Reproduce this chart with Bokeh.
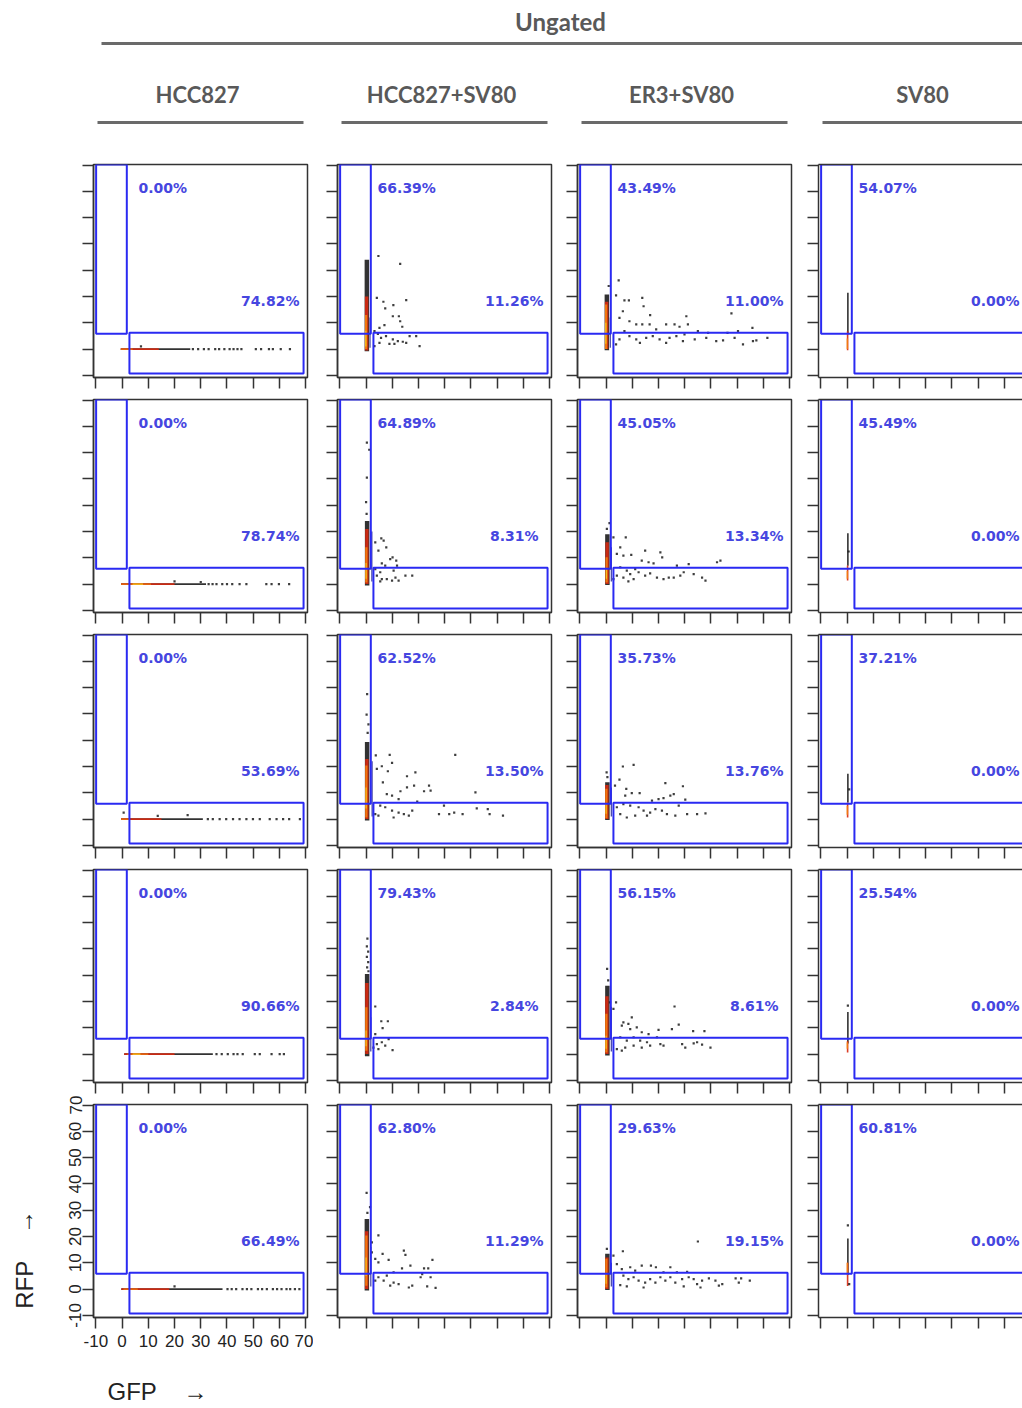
import json
from bokeh.plotting import figure
from bokeh.layouts import row, column
from bokeh.models import Range1d, FixedTicker, LinearAxis, CustomLabelingPolicy, CustomJSTickFormatter
from bokeh.core.properties import value
from bokeh.embed import file_html
from bokeh.resources import INLINE

# ---------------- data ----------------
HEADER = "Ungated"
SAMPLES = ["HCC827", "HCC827+SV80", "ER3+SV80", "SV80"]
TICKS = [-10, 0, 10, 20, 30, 40, 50, 60, 70]
TICK_LABELS = ["-10", "0", "10", "20", "30", "40", "50", "60", "70"]
X_LABEL = "GFP"
Y_LABEL = "RFP"
ARROW = "\u2192"

# gates (x0, x1, y0, y1)
GATE_RFP = (-9.9, 1.8, 5.8, 70.2)
GATE_GFP = (2.8, 69.2, -9.3, 6.2)

# percentages: RFP+ (upper-left gate) and GFP+ (lower-right gate), rows 1..5
PCT_RFP_HCC827 = [0.00, 0.00, 0.00, 0.00, 0.00]
PCT_RFP_HCC827_SV80 = [66.39, 64.89, 62.52, 79.43, 62.80]
PCT_RFP_ER3_SV80 = [43.49, 45.05, 35.73, 56.15, 29.63]
PCT_RFP_SV80 = [54.07, 45.49, 37.21, 25.54, 60.81]
PCT_GFP_HCC827 = [74.82, 78.74, 53.69, 90.66, 66.49]
PCT_GFP_HCC827_SV80 = [11.26, 8.31, 13.50, 2.84, 11.29]
PCT_GFP_ER3_SV80 = [11.00, 13.34, 13.76, 8.61, 19.15]
PCT_GFP_SV80 = [0.00, 0.00, 0.00, 0.00, 0.00]

# sparse events (GFP, RFP)
EV_HCC827_R1 = [(7.2, 1.0), (27, 0), (29, 0), (31.2, 0), (33, 0), (35.5, 0), (37, 0), (39, 0), (41, 0), (42.5, 0),
                (44, 0), (45.5, 0), (51, 0), (53, 0), (56, 0), (57.5, 0), (60.5, 0), (64, 0)]
EV_HCC827_R2 = [(20, 1.0), (30, 0.8), (33, 0), (34.5, 0), (36, 0), (38.2, 0), (40, 0), (42, 0), (44.8, 0), (47.4, 0),
                (55, 0), (57, 0), (59.8, 0), (63.7, 0)]
EV_HCC827_R3 = [(0.6, 2.5), (13.6, 1.2), (25, 1.5), (32.7, 0), (34.6, 0), (37.2, 0), (39.7, 0), (42.3, 0), (44.8, 0),
                (47.4, 0), (49.9, 0), (52.5, 0), (56.3, 0), (58.9, 0), (61.4, 0), (63.7, 0), (67.8, 0)]
EV_HCC827_R4 = [(36, 0), (38, 0), (40.3, 0), (42.5, 0), (44, 0), (46, 0), (50.6, 0), (52.5, 0), (57, 0), (60.1, 0),
                (61.7, 0)]
EV_HCC827_R5 = [(20, 1.0), (40.2, 0), (41.8, 0), (43.5, 0), (45.9, 0), (47.6, 0), (49.3, 0), (51.8, 0), (53.4, 0),
                (55.2, 0), (57.5, 0), (59.1, 0), (60.8, 0), (62.7, 0), (64.1, 0), (65.9, 0), (67.6, 0)]

EV_HCC827_SV80_R1 = [(4.7, 35.4), (13.0, 32.4), (15.3, 18.6), (10.4, 16.7), (4.1, 19.5), (6.6, 18.0), (7.3, 15.5),
                     (10.2, 12.5), (12.5, 12.5), (13.0, 10.6), (13.8, 8.5), (7.0, 9.1), (5.1, 8.1), (3.2, 6.8),
                     (7.6, 4.9), (10.2, 3.7), (12.1, 3.0), (15.3, 2.4), (19.1, 4.9), (20.4, 1.1), (16.6, 4.9),
                     (5.1, 2.4), (3.2, 1.1), (8.9, 2.0), (5.7, 4.3), (10.8, 2.0), (14.0, 2.8), (4.5, 5.8)]
EV_HCC827_SV80_R2 = [(0.3, 53.8), (1.2, 51.1), (0.3, 40.5), (0.0, 31.2), (0.2, 26.7), (5.8, 17.4), (6.7, 16.5),
                     (7.7, 14.0), (3.5, 15.9), (4.7, 12.7), (10.1, 10.2), (11.5, 8.9), (9.2, 9.5), (6.0, 7.9),
                     (7.3, 7.0), (11.8, 7.0), (10.5, 5.1), (5.4, 4.5), (4.1, 3.2), (6.0, 1.9), (7.9, 1.9),
                     (9.9, 1.3), (12.4, 1.3), (15.0, 3.2), (17.6, 3.2), (3.5, 5.7), (5.4, 1.0), (11.2, 2.5)]
EV_HCC827_SV80_R3 = [(0.4, 47.5), (0.2, 39.7), (0.9, 36.0), (0.6, 32.8), (3.7, 24.2), (9.0, 24.4), (9.9, 21.4),
                     (6.0, 20.1), (8.3, 18.2), (4.1, 19.1), (18.8, 17.8), (15.6, 16.3), (6.4, 14.0), (18.3, 12.7),
                     (15.6, 12.1), (13.1, 10.6), (24.0, 12.7), (24.6, 10.8), (22.1, 10.6), (34.0, 24.4),
                     (41.7, 10.2), (9.9, 8.9), (7.9, 9.5), (12.4, 7.6), (19.5, 6.7), (5.4, 5.1), (7.3, 4.5),
                     (9.9, 3.2), (12.4, 2.5), (14.4, 1.9), (17.6, 3.2), (16.3, 1.3), (10.5, 0.6), (4.7, 1.3),
                     (29.7, 5.1), (27.8, 1.9), (31.7, 1.9), (33.6, 2.5), (36.8, 1.9), (42.2, 4.1), (46.4, 3.8),
                     (47.1, 1.9), (52.2, 1.3), (3.5, 1.9)]
EV_HCC827_SV80_R4 = [(0.5, 43.9), (0.3, 41.0), (0.8, 39.0), (0.3, 37.0), (0.8, 35.0), (0.4, 33.0), (0.9, 31.5),
                     (3.5, 18.1), (5.8, 12.5), (8.3, 12.5), (6.3, 9.9), (3.5, 7.6), (8.6, 5.7), (6.0, 4.5),
                     (7.3, 3.2), (4.7, 1.9), (10.1, 1.5), (2.8, 2.5), (4.1, 3.8)]
EV_HCC827_SV80_R5 = [(0.2, 36.6), (1.5, 31.2), (0.5, 29.0), (4.7, 20.4), (2.2, 17.8), (6.3, 13.4), (2.2, 14.0),
                     (3.5, 11.5), (4.7, 10.2), (8.6, 11.1), (10.5, 6.4), (14.4, 14.6), (15.0, 13.0), (16.9, 8.9),
                     (13.7, 7.9), (22.1, 7.9), (23.7, 7.9), (25.3, 11.1), (20.8, 4.5), (24.6, 4.5), (26.5, 0.5),
                     (23.3, 1.0), (17.6, 1.3), (16.3, 0.6), (12.4, 1.9), (10.5, 2.5), (9.2, 1.3), (6.7, 3.2),
                     (4.7, 4.5), (7.9, 5.1), (3.5, 3.2), (21.4, 5.7)]

EV_ER3_SV80_R1 = [(1.0, 24.0), (4.8, 26.1), (3.8, 20.4), (7.0, 18.5), (8.7, 18.5), (13.8, 19.5), (14.3, 16.3),
                  (16.8, 12.9), (6.4, 14.4), (5.1, 11.9), (8.9, 10.6), (11.5, 9.4), (13.8, 9.4), (16.6, 9.4),
                  (19.1, 7.5), (22.9, 9.4), (26.1, 9.4), (28.0, 8.5), (30.6, 12.5), (31.2, 9.4), (35.0, 6.8),
                  (38.2, 4.3), (42.0, 3.0), (44.6, 3.3), (47.8, 13.6), (49.0, 4.3), (52.2, 1.8), (56.0, 3.0),
                  (55.8, 8.1), (57.3, 3.3), (61.5, 4.3), (7.0, 6.8), (8.9, 4.9), (11.5, 3.7), (12.9, 2.4),
                  (15.3, 4.3), (17.8, 4.9), (20.4, 3.7), (22.9, 2.4), (24.2, 4.3), (26.8, 4.9), (29.3, 3.0),
                  (29.9, 5.6), (33.8, 3.7), (38.9, 6.2), (46.3, 6.2), (50.3, 6.8), (5.1, 3.7), (3.8, 1.8)]
EV_ER3_SV80_R2 = [(1.3, 23.2), (0.3, 21.0), (2.8, 17.8), (7.5, 17.8), (5.4, 14.0), (4.1, 11.5), (6.6, 10.8),
                  (9.6, 11.1), (14.9, 12.7), (20.7, 12.1), (21.4, 10.2), (13.6, 8.9), (16.2, 8.3), (18.1, 7.9),
                  (27.0, 7.0), (31.5, 7.6), (42.3, 8.3), (43.6, 8.9), (5.4, 6.4), (7.9, 5.1), (9.2, 3.8),
                  (6.6, 2.5), (8.5, 1.0), (10.5, 1.9), (12.4, 4.5), (14.9, 3.2), (16.8, 4.1), (19.4, 2.5),
                  (21.9, 1.9), (23.9, 2.5), (25.8, 2.5), (28.3, 3.2), (29.6, 4.5), (33.4, 3.8), (36.6, 2.5),
                  (37.9, 1.3), (11.1, 5.7), (4.1, 3.2), (2.8, 1.9)]
EV_ER3_SV80_R3 = [(0.2, 17.8), (0.5, 16.0), (6.4, 20.0), (10.5, 20.6), (5.1, 15.0), (3.4, 12.7), (7.7, 11.5),
                  (9.8, 9.9), (12.8, 9.9), (7.3, 8.9), (22.6, 13.7), (29.3, 12.5), (25.8, 9.5), (24.5, 8.9),
                  (21.9, 8.0), (20.0, 7.6), (17.5, 7.0), (30.2, 7.4), (27.7, 5.1), (6.6, 5.7), (9.2, 5.1),
                  (12.4, 4.5), (14.3, 3.2), (16.8, 2.5), (18.8, 3.8), (21.3, 3.2), (23.2, 1.9), (26.4, 1.3),
                  (30.9, 1.9), (34.7, 1.9), (37.9, 2.2), (11.1, 1.3), (5.4, 1.9), (7.9, 0.6), (15.6, 1.3),
                  (4.1, 4.5)]
EV_ER3_SV80_R4 = [(0.4, 32.4), (0.8, 28.0), (1.5, 19.7), (3.8, 19.7), (2.8, 17.2), (9.8, 14.0), (6.6, 12.1),
                  (8.5, 11.5), (6.0, 10.8), (11.7, 10.2), (9.2, 9.5), (13.6, 8.3), (16.2, 7.6), (20.0, 9.2),
                  (25.1, 9.5), (27.7, 11.2), (26.1, 18.1), (33.2, 8.7), (37.5, 8.7), (5.4, 6.4), (7.9, 5.1),
                  (10.5, 6.4), (13.0, 5.1), (15.6, 4.5), (19.4, 6.4), (20.7, 3.8), (16.8, 3.2), (21.9, 3.2),
                  (7.3, 2.5), (10.5, 3.2), (13.6, 2.5), (29.0, 3.8), (30.2, 2.5), (33.4, 4.1), (34.7, 4.5),
                  (36.6, 3.6), (39.8, 2.5), (4.1, 1.9), (6.0, 1.3)]
EV_ER3_SV80_R5 = [(0.3, 15.3), (6.4, 14.4), (2.8, 12.7), (35.0, 18.1), (4.1, 9.5), (6.0, 7.6), (9.2, 8.3),
                  (11.1, 7.0), (13.6, 8.9), (17.1, 8.9), (19.0, 8.3), (24.5, 8.3), (21.9, 6.4), (27.0, 6.4),
                  (30.9, 6.6), (6.6, 5.1), (8.5, 3.8), (10.5, 4.5), (12.4, 3.2), (14.9, 2.5), (16.8, 3.8),
                  (18.8, 2.5), (20.7, 4.5), (22.6, 3.2), (24.5, 4.5), (26.4, 2.5), (29.0, 3.8), (31.5, 4.5),
                  (33.4, 3.8), (34.7, 1.9), (36.6, 3.2), (39.2, 4.1), (41.7, 3.2), (43.0, 1.3), (44.3, 1.9),
                  (49.4, 4.1), (50.6, 2.5), (51.5, 4.1), (54.8, 3.2), (5.4, 1.5), (7.9, 1.0), (14.3, 0.6),
                  (29.6, 1.0), (36.0, 0.6)]

EV_SV80_R1 = []
EV_SV80_R2 = [(0.6, 12.4)]
EV_SV80_R3 = [(0.8, 11.3)]
EV_SV80_R4 = [(0.3, 18.4)]
EV_SV80_R5 = [(0.3, 24.2), (0.8, 1.9)]

# dense event bands (x0, y0, x1, y1, density level k<b<r<o<y)
ST_HCC827_R1 = [(-0.5, 0, 26, 0, "k"), (-0.5, 0, 14, 0, "r"), (-0.5, 0, 4, 0, "o")]
ST_HCC827_R2 = [(-0.4, 0, 32, 0, "k"), (-0.4, 0, 20, 0, "r"), (-0.4, 0, 11, 0, "o"), (4, 0, 8, 0, "y")]
ST_HCC827_R3 = [(-0.4, 0, 30.8, 0, "k"), (-0.4, 0, 15, 0, "r"), (-0.4, 0, 3, 0, "o")]
ST_HCC827_R4 = [(0.8, 0, 34.6, 0, "k"), (0.8, 0, 20, 0, "r"), (2, 0, 10, 0, "o"), (4, 0, 7, 0, "y")]
ST_HCC827_R5 = [(-0.3, 0, 38.3, 0, "k"), (-0.3, 0, 18, 0, "r"), (0.5, 0, 6, 0, "o")]

ST_HCC827_SV80_R1 = [(0.3, -0.8, 0.3, 34.0, "k"), (1.5, 0.5, 1.5, 12.0, "b"), (0.2, -0.5, 0.2, 20.0, "r"),
                     (0.0, 0.0, 0.0, 13.0, "o"), (-0.1, 1.0, -0.1, 7.0, "y")]
ST_HCC827_SV80_R2 = [(0.4, -0.5, 0.4, 24.0, "k"), (2.2, 1.0, 2.2, 20.0, "b"), (0.3, 0.0, 0.3, 21.0, "r"),
                     (0.1, 0.6, 0.1, 14.0, "o"), (0.0, 2.0, 0.0, 8.0, "y")]
ST_HCC827_SV80_R3 = [(0.4, -0.5, 0.4, 29.3, "k"), (2.3, 1.0, 2.3, 22.0, "b"), (0.3, 0.0, 0.3, 22.9, "r"),
                     (0.1, 0.6, 0.1, 20.4, "o"), (0.0, 4.0, 0.0, 12.0, "y")]
ST_HCC827_SV80_R4 = [(0.4, -0.8, 0.4, 30.5, "k"), (1.8, 1.0, 1.8, 14.0, "b"), (0.3, 0.0, 0.3, 27.0, "r"),
                     (0.1, 1.3, 0.1, 17.8, "o"), (0.0, 3.0, 0.0, 9.0, "y")]
ST_HCC827_SV80_R5 = [(0.3, -0.5, 0.3, 26.7, "k"), (1.8, 1.0, 1.8, 16.0, "b"), (0.2, 0.0, 0.2, 22.0, "r"),
                     (0.1, 1.3, 0.1, 20.4, "o"), (0.0, 5.0, 0.0, 12.0, "y")]

ST_ER3_SV80_R1 = [(0.3, -0.4, 0.3, 20.8, "k"), (1.6, 0.5, 1.6, 12.0, "b"), (0.2, 0.0, 0.2, 18.0, "r"),
                  (0.0, 0.0, 0.0, 17.0, "o"), (-0.1, 2.0, -0.1, 10.0, "y")]
ST_ER3_SV80_R2 = [(0.5, -0.3, 0.5, 19.0, "k"), (2.0, 1.0, 2.0, 14.0, "b"), (0.4, 0.0, 0.4, 15.9, "r"),
                  (0.2, 0.6, 0.2, 10.2, "o"), (0.1, 2.0, 0.1, 6.0, "y")]
ST_ER3_SV80_R3 = [(0.5, -0.3, 0.5, 14.0, "k"), (2.0, 1.0, 2.0, 12.0, "b"), (0.3, 0.0, 0.3, 13.0, "r"),
                  (0.1, 0.3, 0.1, 11.5, "o"), (0.0, 2.0, 0.0, 6.0, "y")]
ST_ER3_SV80_R4 = [(0.5, -0.5, 0.5, 26.0, "k"), (2.0, 1.0, 2.0, 18.0, "b"), (0.3, 0.0, 0.3, 22.0, "r"),
                  (0.1, 0.6, 0.1, 15.3, "o"), (0.0, 2.0, 0.0, 7.0, "y")]
ST_ER3_SV80_R5 = [(0.5, -0.3, 0.5, 13.4, "k"), (2.0, 1.0, 2.0, 10.0, "b"), (0.3, 0.0, 0.3, 12.0, "r"),
                  (0.1, 0.6, 0.1, 11.5, "o"), (0.0, 2.0, 0.0, 6.0, "y")]

ST_SV80_R1 = [(0.3, 5.6, 0.3, 21.4, "k"), (0.2, -0.4, 0.2, 6.8, "r"), (0.1, 0.0, 0.1, 4.0, "o")]
ST_SV80_R2 = [(0.3, 7.0, 0.3, 19.3, "k"), (0.2, 1.4, 0.2, 7.1, "r"), (0.1, 2.0, 0.1, 5.0, "o")]
ST_SV80_R3 = [(0.3, 6.3, 0.3, 17.2, "k"), (0.2, 0.6, 0.2, 6.3, "r"), (0.1, 1.7, 0.1, 5.0, "o")]
ST_SV80_R4 = [(0.3, 4.0, 0.3, 16.0, "k"), (0.2, 0.6, 0.2, 5.0, "r"), (0.1, 2.0, 0.1, 4.5, "o")]
ST_SV80_R5 = [(0.3, 5.4, 0.3, 19.2, "k"), (0.2, 1.2, 0.2, 10.0, "r"), (0.1, 5.4, 0.1, 10.0, "o")]

PCT_RFP = [PCT_RFP_HCC827, PCT_RFP_HCC827_SV80, PCT_RFP_ER3_SV80, PCT_RFP_SV80]
PCT_GFP = [PCT_GFP_HCC827, PCT_GFP_HCC827_SV80, PCT_GFP_ER3_SV80, PCT_GFP_SV80]
EVENTS = [
    [EV_HCC827_R1, EV_HCC827_R2, EV_HCC827_R3, EV_HCC827_R4, EV_HCC827_R5],
    [EV_HCC827_SV80_R1, EV_HCC827_SV80_R2, EV_HCC827_SV80_R3, EV_HCC827_SV80_R4, EV_HCC827_SV80_R5],
    [EV_ER3_SV80_R1, EV_ER3_SV80_R2, EV_ER3_SV80_R3, EV_ER3_SV80_R4, EV_ER3_SV80_R5],
    [EV_SV80_R1, EV_SV80_R2, EV_SV80_R3, EV_SV80_R4, EV_SV80_R5],
]
STRIPS = [
    [ST_HCC827_R1, ST_HCC827_R2, ST_HCC827_R3, ST_HCC827_R4, ST_HCC827_R5],
    [ST_HCC827_SV80_R1, ST_HCC827_SV80_R2, ST_HCC827_SV80_R3, ST_HCC827_SV80_R4, ST_HCC827_SV80_R5],
    [ST_ER3_SV80_R1, ST_ER3_SV80_R2, ST_ER3_SV80_R3, ST_ER3_SV80_R4, ST_ER3_SV80_R5],
    [ST_SV80_R1, ST_SV80_R2, ST_SV80_R3, ST_SV80_R4, ST_SV80_R5],
]

# ---------------- style / layout ----------------
X_RANGE = (-10.9, 70.7)
Y_RANGE = (-10.8, 70.2)
FRAME_W = 214
COL_W = [313, 240, 241, 228]
COL_BL = [93, 24, 24, 24]
COL_BR = [6, 2, 3, 0]
ROW_H = [235, 235, 235, 227, 314]
ROW_BT = [2, 2, 2, 2, 10]
ROW_BB = [20, 20, 20, 12, 91]
HEADER_H = 162
TOTAL_W = sum(COL_W)
GFP_TITLE_AT = 13.5   # data position of the centre of the axis titles
RFP_TITLE_AT = 11.3

FRAME_COLOR = "#333333"
GATE_COLOR = "#2a2af2"
PCT_COLOR = "#4646e0"
HEAD_COLOR = "#595959"
RULE_COLOR = "#6a6a6a"
LEVEL_COLOR = {"k": "#1c1c1c", "b": "#2a2a9a", "r": "#d8290f", "o": "#f2800e", "y": "#f6cf1f"}
WIDE_W = {"k": 4.5, "b": 1.2, "r": 3.4, "o": 2.2, "y": 1.1}
THIN_W = {"k": 1.6, "b": 1, "r": 1.6, "o": 1.4, "y": 1.1}
TEXT_FONT = "Liberation Sans"
NBSP = "\u00a0"

UNITS_PER_PX = (X_RANGE[1] - X_RANGE[0]) / FRAME_W

HIDE_ALL = CustomLabelingPolicy(code="for (const i of Array.from(indices)) { indices.unset(i) }\nreturn indices")


def style_axis(ax, labelled):
    ax.ticker = FixedTicker(ticks=TICKS)
    ax.minor_tick_line_color = None
    ax.major_tick_out = 11
    ax.major_tick_in = 0
    ax.major_tick_line_width = 1.5
    ax.major_tick_line_color = FRAME_COLOR
    ax.axis_line_width = 1.5
    ax.axis_line_color = FRAME_COLOR
    if labelled:
        ax.major_label_overrides = dict(zip(TICKS, TICK_LABELS))
        ax.major_label_text_font = TEXT_FONT
        ax.major_label_text_font_size = "17px"
        ax.major_label_text_color = "#222222"
    else:
        ax.major_label_text_font_size = "0px"
        ax.major_label_standoff = 0
        ax.major_label_policy = HIDE_ALL


def title_axis(where, text, standoff):
    ax = LinearAxis(ticker=FixedTicker(ticks=[GFP_TITLE_AT if where == "below" else RFP_TITLE_AT]),
                    formatter=CustomJSTickFormatter(code="return %s;" % json.dumps(text)),
                    major_tick_out=0, major_tick_in=0, minor_tick_out=0, minor_tick_in=0,
                    axis_line_color=None, major_tick_line_color=None, minor_tick_line_color=None,
                    major_label_standoff=standoff, major_label_text_font=TEXT_FONT,
                    major_label_text_font_size="24px", major_label_text_color="#222222")
    if where == "left":
        ax.major_label_orientation = "parallel"
    return ax


def make_panel(ci, ri):
    w = COL_W[ci]
    h = ROW_H[ri]
    frame_w = w - COL_BL[ci] - COL_BR[ci]
    x_end = X_RANGE[0] + frame_w * UNITS_PER_PX
    p = figure(width=w, height=h, x_range=Range1d(X_RANGE[0], x_end), y_range=Range1d(*Y_RANGE),
               toolbar_location=None, output_backend="svg", title=None,
               min_border_left=COL_BL[ci], min_border_right=COL_BR[ci],
               min_border_top=ROW_BT[ri], min_border_bottom=ROW_BB[ri])
    p.grid.visible = False
    p.background_fill_color = "white"
    p.border_fill_color = "white"
    labelled = (ci == 0 and ri == 4)
    style_axis(p.xaxis[0], labelled)
    style_axis(p.yaxis[0], labelled)
    if labelled:
        p.yaxis[0].major_label_orientation = "parallel"
        p.yaxis[0].major_label_standoff = 1
        p.xaxis[0].major_label_standoff = 6
        p.add_layout(title_axis("below", X_LABEL + NBSP * 4 + ARROW, 28), "below")
        p.add_layout(title_axis("left", Y_LABEL + NBSP * 4 + ARROW, 28), "left")
    if ci == 3:
        p.outline_line_color = None
        top = LinearAxis(ticker=FixedTicker(ticks=[]), major_tick_out=0, major_tick_in=0,
                         minor_tick_out=0, minor_tick_in=0, major_label_text_font_size="0px",
                         major_label_standoff=0, axis_line_color=FRAME_COLOR, axis_line_width=1.5)
        p.add_layout(top, "above")
    else:
        p.outline_line_color = FRAME_COLOR
        p.outline_line_width = 1.5
        p.outline_line_alpha = 1.0

    # dense bands
    widths = THIN_W if ci in (0, 3) else WIDE_W
    for seg in STRIPS[ci][ri]:
        x0, y0, x1, y1, lev = seg
        p.segment(x0=[x0], y0=[y0], x1=[x1], y1=[y1], line_color=LEVEL_COLOR[lev],
                  line_width=widths[lev], line_alpha=0.9)
    # sparse events
    ev = EVENTS[ci][ri]
    if ev:
        p.scatter(x=[e[0] for e in ev], y=[e[1] for e in ev], marker="square", size=2.2,
                  fill_color="#1c1c1c", line_color=None, fill_alpha=0.85)
    # gates
    for g in (GATE_RFP, GATE_GFP):
        p.quad(left=[g[0]], right=[g[1]], bottom=[g[2]], top=[g[3]], fill_color=None,
               line_color=GATE_COLOR, line_width=2)
    # percentages
    p.text(x=[15.5, 56.5], y=[61.2, 18.3],
           text=["%.2f%%" % PCT_RFP[ci][ri], "%.2f%%" % PCT_GFP[ci][ri]],
           text_align="center", text_baseline="middle", text_font=value("DejaVu Sans"),
           text_font_style="bold", text_font_size="14px", text_color=PCT_COLOR)
    return p


# header strip (coordinates = page pixels)
head = figure(width=TOTAL_W, height=HEADER_H, x_range=Range1d(0, TOTAL_W),
              y_range=Range1d(HEADER_H, 0), toolbar_location=None, output_backend="svg",
              x_axis_location=None, y_axis_location=None, min_border=0, title=None)
head.grid.visible = False
head.outline_line_color = None
head.text(x=[560], y=[21], text=[HEADER], text_align="center", text_baseline="middle",
          text_font=value("Lato"), text_font_style="bold", text_font_size="24px", text_color=HEAD_COLOR)
head.segment(x0=[101], y0=[43], x1=[TOTAL_W], y1=[43], line_color=RULE_COLOR, line_width=3)
frame_lefts = []
acc = 0
for ci in range(4):
    frame_lefts.append(acc + COL_BL[ci])
    acc += COL_W[ci]
head.text(x=[fl + FRAME_W / 2 - 3 for fl in frame_lefts], y=[94] * 4, text=SAMPLES, text_align="center",
          text_baseline="middle", text_font=value("Lato"), text_font_style="bold", text_font_size="22px",
          text_color=HEAD_COLOR)
head.segment(x0=[fl + 4 for fl in frame_lefts], y0=[122] * 4,
             x1=[min(fl + 210, TOTAL_W) for fl in frame_lefts], y1=[122] * 4,
             line_color=RULE_COLOR, line_width=3)

cols = []
for ci in range(4):
    cols.append(column(*[make_panel(ci, ri) for ri in range(5)], spacing=0))
layout = column(head, row(*cols, spacing=0), spacing=0)

open("out.html", "w").write(file_html(layout, INLINE))
